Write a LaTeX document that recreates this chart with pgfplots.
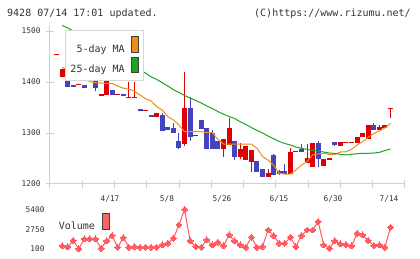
\documentclass[border=0pt]{standalone}
\usepackage{pgfplots}
\pgfplotsset{compat=1.18}
\usepackage{pgfplotstable}
\usepackage{fontspec}
\setmainfont{DejaVu Sans Mono}
\setmonofont{DejaVu Sans Mono}

\definecolor{txt}{HTML}{333333}
\definecolor{axisgray}{HTML}{D0D0D0}
\definecolor{legendgray}{HTML}{D8D8D8}
\definecolor{swatchedge}{HTML}{404040}
\definecolor{upred}{HTML}{DD0000}
\definecolor{downblue}{HTML}{4343BB}
\definecolor{maorange}{HTML}{F08C1A}
\definecolor{magreen}{HTML}{1EA51E}
\definecolor{volred}{HTML}{FF5A5F}

% rising sessions: index, open, high, low, close
\pgfplotstableread{
x o h l c
0 1452 1454 1452 1454
1 1410 1425 1410 1425
4 1394 1396 1394 1396
6 1418 1421 1418 1421
8 1372 1376 1372 1376
9 1374.5 1420 1374.5 1420
11 1375 1377 1375 1377
13 1369 1400 1369 1371
14 1369 1400 1369 1371
16 1344 1346 1344 1346
18 1332 1340 1332 1340
23 1278 1420 1275 1349
25 1295 1297 1295 1297
30 1269 1288 1253 1288
31 1276.5 1329 1276.5 1310
33 1253 1280 1249 1268.6
34 1247 1274.5 1247 1274.5
35 1243 1266.7 1223.5 1266.7
38 1213.7 1229 1213.7 1221.6
42 1219.6 1270.6 1219.6 1263
43 1262 1264 1262 1264
45 1241 1278 1241 1251
46 1233 1280 1233 1280
48 1235 1249 1235 1249
49 1247 1251 1247 1251
51 1274.5 1282 1274.5 1282
52 1281 1283 1281 1283
53 1281 1283 1281 1283
54 1280 1292 1280 1292
55 1292 1300 1292 1300
56 1288 1315.7 1288 1315.7
58 1306 1315 1306 1312
59 1310 1315.7 1310 1315.7
60 1347 1349 1330 1349
}\upcandles

% falling sessions: index, open, high, low, close
\pgfplotstableread{
x o h l c
2 1433 1433 1391 1391
3 1394 1394 1391 1391
5 1394 1394 1389 1389
7 1416 1416 1382 1388
10 1384 1384 1374.5 1374.5
12 1376 1376 1372 1372
15 1348 1348 1343 1343
17 1335 1335 1332 1332
19 1335 1340 1304.5 1304.5
20 1312 1312 1305 1305
21 1309 1320 1300 1300
22 1284 1300.6 1269 1271
24 1349 1370 1284 1292
26 1325.5 1325.5 1308 1308
27 1310 1310 1269 1269
28 1300 1306 1269 1269
29 1284 1284 1269 1269
32 1284 1284 1247 1253
36 1245 1245 1223.5 1223.5
37 1229 1229 1213.7 1213.7
39 1257 1259 1217.6 1217.6
40 1225.5 1227 1218 1219.6
41 1225.5 1239 1219.6 1219.6
44 1269 1279 1263 1263
47 1280 1284 1233 1249
50 1282 1282 1274.5 1276.5
57 1315.7 1319.6 1306 1306
}\downcandles

% moving averages and volume per session
\pgfplotstableread{
x ma5 ma25 vol
1 1429 1511 509
2 1423 1506 375
3 1418 1500 1220
4 1412 1493 107
5 1407 1487 1447
6 1400.6 1480 1447
7 1398.6 1474.5 1447
8 1398 1468 200
9 1397.5 1462 1180
10 1397.5 1455 1900
11 1392 1449 335
12 1388 1442.5 1620
13 1385.7 1436 335
14 1382 1430 415
15 1374.5 1423.5 335
16 1367 1417.6 335
17 1363 1410 335
18 1351.6 1405 335
19 1345 1398.6 643
20 1332 1392 870
21 1325.5 1385 1540
22 1315.7 1379.4 3323
23 1302.5 1373.5 5400
24 1303 1368.6 1180
25 1303 1363.7 415
26 1302.5 1358.8 335
27 1300.6 1353 1313
28 1300.6 1348 643
29 1287.6 1342 1005
30 1278.4 1337 549
31 1278.4 1332.4 1983
32 1278.4 1328.4 1180
33 1278.4 1322 643
34 1278.4 1316.7 335
35 1278.4 1310.8 1675
36 1270.6 1305.3 335
37 1254 1300 415
38 1247 1294 2653
39 1237 1288.8 1889
40 1221 1283.3 870
41 1219.6 1279.4 870
42 1219.6 1276.5 1675
43 1227.5 1272.5 415
44 1237 1270 1889
45 1243.7 1268 2653
46 1257 1266 2653
47 1259 1264.7 3765
48 1260 1262.7 643
49 1258 1260.8 200
50 1258 1259.8 1180
51 1262.7 1258.2 777
52 1263.3 1257 643
53 1268 1258.2 509
54 1276.5 1259.4 2211
55 1283 1260.2 1983
56 1291.6 1260.2 1220
57 1299 1260.8 549
58 1304 1262 643
59 1310 1265.7 335
60 1319 1268.6 3015
}\daily

\pgfplotsset{
  chartfont/.style={font=\fontsize{7.8}{9}\selectfont, text=txt},
  swatch/.style={legend image code/.code={
      \draw[draw=swatchedge, line width=1pt, fill=#1] (0pt,-2.6pt) rectangle (6.5pt,12.6pt);}},
  candle/.style 2 args={forget plot, draw=none, mark=none,
    error bars/.cd, y dir=plus, y explicit, error mark=none,
    error bar style={draw=#1, line width=#2, solid}},
}

\begin{document}
\begin{tikzpicture}
\useasboundingbox (0,0) rectangle (420pt,259pt);

\node[anchor=base west, inner sep=0pt, text=txt, font=\fontsize{10}{12}\selectfont]
  at (7pt,242.3pt) {9428 07/14 17:01 updated.};
\node[anchor=base west, inner sep=0pt, text=txt, font=\fontsize{10}{12}\selectfont]
  at (254pt,242.3pt) {(C)https://www.rizumu.net/};

% price panel
\begin{axis}[
  at={(50pt,75pt)}, anchor=south west,
  width=355pt, height=159pt, scale only axis,
  xmin=-1.17, xmax=62.6, ymin=1200, ymax=1511.8,
  axis x line*=bottom, axis y line*=left,
  axis line style={draw=axisgray, line width=1pt, -},
  every tick/.style={draw=axisgray, line width=1pt},
  tick align=center, major tick length=8pt,
  xtick={-1.17,4.627,10.424,16.221,22.018,27.815,33.612,39.409,45.206,51.003,56.8,62.597},
  xticklabels={},
  extra x ticks={9.61,19.85,29.73,39.97,49.67,59.73},
  extra x tick labels={4/17,5/8,5/26,6/15,6/30,7/14},
  extra x tick style={major tick length=0pt},
  ytick={1200,1300,1400,1500},
  yticklabels={1200,1300,1400,1500},
  tick label style={chartfont},
  xticklabel style={yshift=-8pt},
  yticklabel style={xshift=-2pt},
  legend style={at={(axis description cs:0.04225,0.9686)}, anchor=north west,
    draw=legendgray, line width=1pt, fill=white,
    font=\fontsize{10}{12}\selectfont, text=txt,
    inner xsep=5pt, inner ysep=6pt, row sep=2.5pt, column sep=6.5pt,
    nodes={inner sep=0pt}},
  legend cell align=right, legend plot pos=right,
]
% wicks
\addplot[candle={upred}{1pt}]
  table[x=x, y=l, y error expr=\thisrow{h}-\thisrow{l}] {\upcandles};
\addplot[candle={downblue}{1pt}]
  table[x=x, y=l, y error expr=\thisrow{h}-\thisrow{l}] {\downcandles};
% bodies
\addplot[candle={upred}{5pt}]
  table[x=x, y=o, y error expr=\thisrow{c}-\thisrow{o}] {\upcandles};
\addplot[candle={downblue}{5pt}]
  table[x=x, y=c, y error expr=\thisrow{o}-\thisrow{c}] {\downcandles};
% moving averages
\addplot[maorange, line width=1pt, mark=none, swatch=maorange]
  table[x=x, y=ma5] {\daily};
\addlegendentry{5-day MA}
\addplot[magreen, line width=1pt, mark=none, swatch=magreen]
  table[x=x, y=ma25] {\daily};
\addlegendentry{25-day MA}
\end{axis}

% volume panel
\begin{axis}[
  at={(50pt,10pt)}, anchor=south west,
  width=355pt, height=39.5pt, scale only axis,
  xmin=-1.17, xmax=62.6, ymin=100, ymax=5400,
  axis x line=none, axis y line*=left,
  y axis line style={draw=none},
  major tick length=0pt,
  ytick={100,2750,5400}, yticklabels={100,2750,5400},
  tick label style={chartfont},
  yticklabel style={xshift=-2pt},
  clip=false,
  legend style={at={(axis description cs:0.0245,0.904)}, anchor=north west,
    draw=none, fill=none,
    font=\fontsize{10}{12}\selectfont, text=txt,
    inner sep=0pt, column sep=7pt, nodes={inner sep=0pt}},
  legend cell align=right, legend plot pos=right,
]
\addplot[volred, line width=1pt, mark=square*,
  mark options={rotate=45, fill=volred, draw=volred, line width=0pt},
  mark size=2.1pt, swatch=volred!95]
  table[x=x, y=vol] {\daily};
\addlegendentry{Volume}
\end{axis}
\end{tikzpicture}
\end{document}
